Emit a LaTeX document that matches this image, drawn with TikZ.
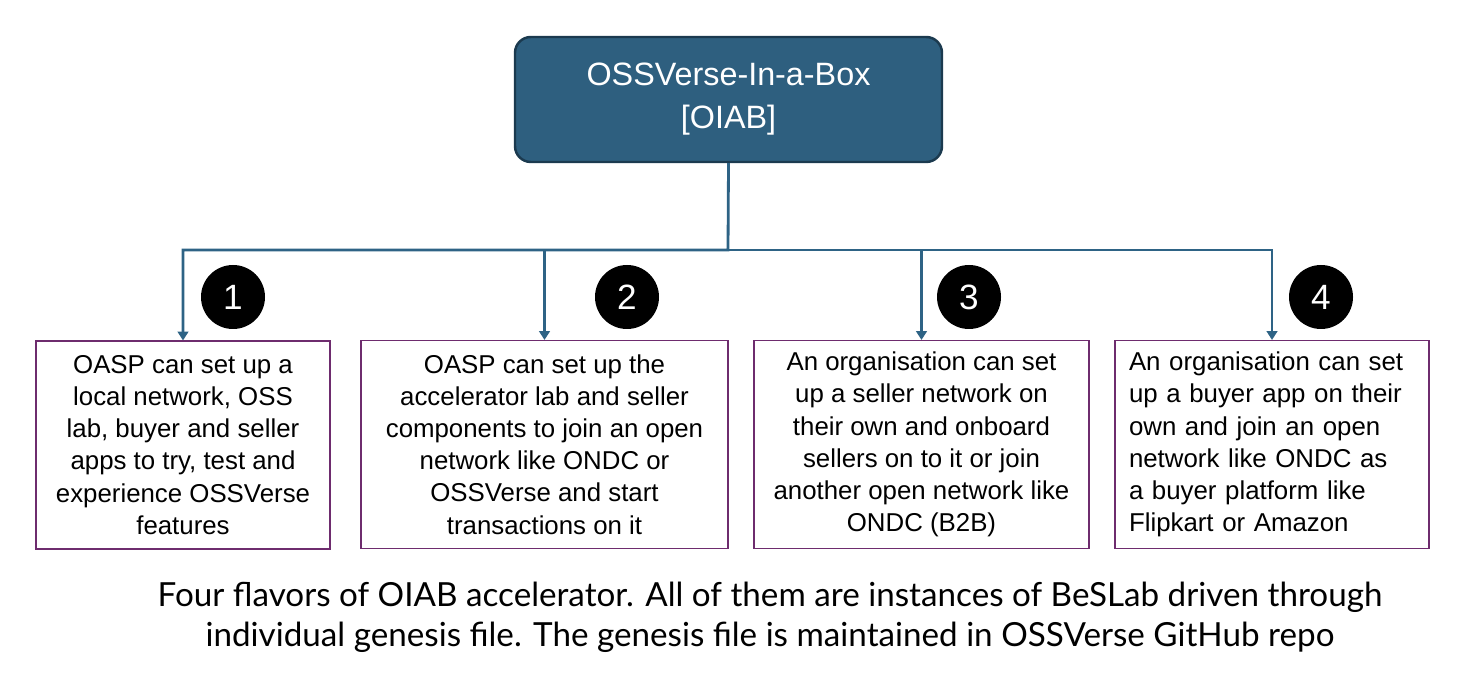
\documentclass[tikz,border=0pt]{standalone}
\usepackage{fontspec}
\setmainfont{Liberation Sans}
\newfontfamily\capfont{Lato}
\usetikzlibrary{arrows.meta}

\definecolor{oiabfill}{HTML}{2E5F7F}
\definecolor{oiabedge}{HTML}{1B3A4F}
\definecolor{linkblue}{HTML}{2E6385}
\definecolor{boxedge}{HTML}{6E2C6E}

\begin{document}
\begin{tikzpicture}[x=0.02cm, y=-0.02cm, >={Triangle[length=5pt,width=6pt]},
    headbox/.style={draw=oiabedge, line width=1.4pt, fill=oiabfill, rounded corners=9pt,
        minimum width=427*0.02cm, minimum height=125*0.02cm, align=center,
        text=white, font=\fontsize{18.4}{24.4}\selectfont},
    flavour/.style={draw=boxedge, line width=0.6pt, minimum height=208*0.02cm,
        inner sep=0pt, font=\fontsize{14.7}{18.3}\selectfont},
    badge/.style={circle, fill=black, minimum size=64*0.02cm, inner sep=0pt,
        text=white, font=\fontsize{20}{20}\selectfont},
    link/.style={->, draw=linkblue, line width=1.6pt}]

        % Fix the page to the reference size.
        \useasboundingbox (0,0) rectangle (1470,688);

        % The OIAB box at the top.
        \node[headbox] (oiab) at (728.5,99.5) {OSSVerse-In-a-Box\\{}[OIAB]};

        % Four flavours.
        \node[flavour, minimum width=294*0.02cm, align=center] (f1) at (183,445)
            {OASP can set up a\\local network, OSS\\lab, buyer and seller\\apps to try, test and\\experience OSSVerse\\features};
        \node[flavour, minimum width=367*0.02cm, align=center] (f2) at (544.5,444.5)
            {OASP can set up the\\accelerator lab and seller\\components to join an open\\network like ONDC or\\OSSVerse and start\\transactions on it};
        \node[flavour, minimum width=335*0.02cm, align=center] (f3) at (921.5,444.5)
            {An organisation can set\\up a seller network on\\their own and onboard\\sellers on to it or join\\another open network like\\ONDC (B2B)};
        \node[flavour, minimum width=314*0.02cm, text width=286*0.02cm, align=left] (f4) at (1272,444.5)
            {An organisation can set\\up a buyer app on their\\own and join an open\\network like ONDC as\\a buyer platform like\\Flipkart or Amazon};

        % Number badges.
        \node[badge] (n1) at (233,297) {1};
        \node[badge] (n2) at (627,297) {2};
        \node[badge] (n3) at (969,297) {3};
        \node[badge] (n4) at (1321,297) {4};

        % Tree connectors.
        \coordinate (bus) at (728,250);
        \draw[link] (oiab.south) -- (bus) -| (f1.north);
        \draw[link] (bus) -| (f2.north);
        \draw[link] (bus) -| (f3.north);
        \draw[link] (bus) -| (f4.north);

        % Caption.
        \node[align=center, font=\capfont\fontsize{18.9}{22.7}\selectfont] (caption) at (770,617)
            {Four flavors of OIAB accelerator. All of them are instances of BeSLab driven through\\individual genesis file. The genesis file is maintained in OSSVerse GitHub repo};
    \end{tikzpicture}
\end{document}
